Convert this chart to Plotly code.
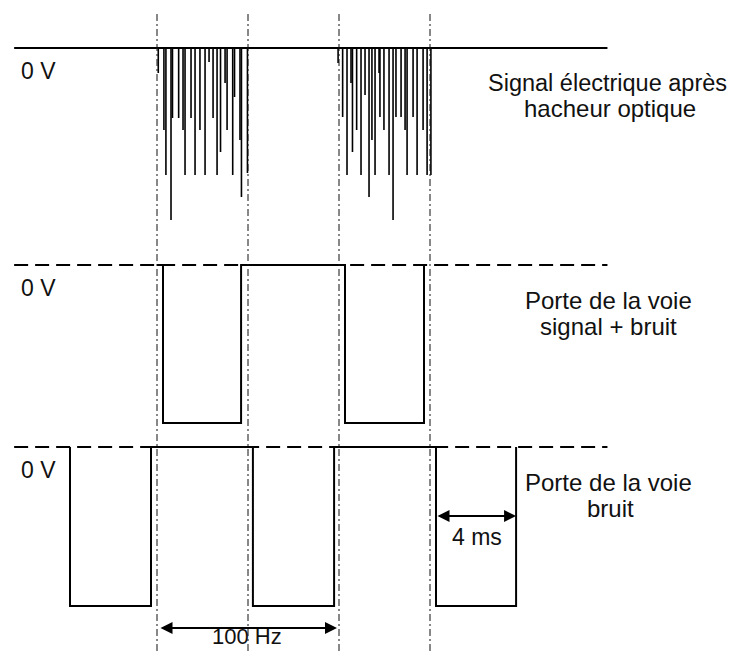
import plotly.graph_objects as go

# time axis in ms, chopper at 100 Hz (period 10 ms)
chopper_edges_ms = [0, 5, 10, 15]
baseline_ms = [-7.85, 24.75]

# spikes of the photodetector signal after the optical chopper (relative depth, 1 = deepest)
spike_ms = [0.07, 0.38, 0.49, 0.77, 0.85, 1.19, 1.43, 1.54, 1.87, 2.09, 2.36, 2.64,
            2.86, 3.08, 3.30, 3.49, 3.74, 3.85, 4.16, 4.26, 4.56, 4.64, 4.97,
            9.95, 10.20, 10.44, 10.66, 10.74, 10.97, 11.21, 11.43, 11.65, 11.81, 11.98,
            12.20, 12.25, 12.47, 12.75, 12.97, 13.13, 13.41, 13.63, 13.74, 14.07,
            14.29, 14.62, 14.84, 15.05]
spike_depth = [0.145, 0.477, 0.738, 1.00, 0.407, 0.407, 0.477, 0.738, 0.407, 0.738, 0.477, 0.738,
               0.081, 0.407, 0.738, 0.605, 0.203, 0.477, 0.738, 0.285, 0.535, 0.866, 0.727,
               0.087, 0.401, 0.738, 0.203, 0.605, 0.477, 0.738, 0.273, 0.866, 0.535, 0.738,
               0.145, 0.401, 0.477, 0.738, 1.00, 0.401, 0.401, 0.477, 0.738, 0.401,
               0.738, 0.477, 0.738, 0.738]

# gate edges (down, up, down, up ...)
signal_gate_start_ms = 0.0
signal_gate_edges_ms = [0.33, 4.62, 10.33, 14.67]
noise_gate_edges_ms = [-4.78, -0.33, 5.27, 9.73, 15.33, 19.73]
gate_low = -1.0

gate_width_arrow_ms = [15.33, 19.73]
gate_width_arrow_level = -0.434
period_arrow_ms = [0.11, 9.89]
period_arrow_level = -1.138

# the page body has an 8px margin all round, keep the figure inside the window
OFF = 8
W, H = 735 - 2 * OFF, 659 - 2 * OFF
PX_PER_MS = 18.2
X0_PX = 157 - OFF
FONT = "Liberation Sans, Arial, sans-serif"


def py(p):
    # window pixel row -> paper y
    return 1 - (p - OFF) / H


def px(p):
    return (p - OFF) / W


def step_wave(edges, start, end):
    xs, ys = [start], [0]
    level = 0
    for e in edges:
        xs += [e, e]
        new = gate_low if level == 0 else 0
        ys += [level, new]
        level = new
    xs.append(end)
    ys.append(level)
    return xs, ys


def spikes_xy(ts, depths):
    xs, ys = [], []
    for t, d in zip(ts, depths):
        xs += [t, t, None]
        ys += [0, -d, None]
    return xs, ys


fig = go.Figure()

# top channel: baseline + spikes
fig.add_trace(go.Scatter(x=baseline_ms, y=[0, 0], mode="lines",
                         line=dict(color="black", width=2), yaxis="y"))
sx, sy = spikes_xy(spike_ms, spike_depth)
fig.add_trace(go.Scatter(x=sx, y=sy, mode="lines",
                         line=dict(color="black", width=1.6), yaxis="y"))

# gate channels: dashed 0 V line + square wave
for yax in ["y2", "y3"]:
    fig.add_trace(go.Scatter(x=baseline_ms, y=[0, 0], mode="lines",
                             line=dict(color="black", width=2, dash="14px,7px"), yaxis=yax))

gx, gy = step_wave(signal_gate_edges_ms, signal_gate_start_ms, signal_gate_edges_ms[-1])
fig.add_trace(go.Scatter(x=gx, y=gy, mode="lines",
                         line=dict(color="black", width=2), yaxis="y2"))
nx, ny = step_wave(noise_gate_edges_ms, noise_gate_edges_ms[0], noise_gate_edges_ms[-1])
fig.add_trace(go.Scatter(x=nx, y=ny, mode="lines",
                         line=dict(color="black", width=2), yaxis="y3"))

# chopper edge markers over the whole figure
for t in chopper_edges_ms:
    fig.add_shape(type="line", xref="x", yref="paper", x0=t, x1=t, y0=0, y1=py(12),
                  line=dict(color="#111", width=1, dash="7px,3px,2px,3px"))

# double arrows
for (a, b), lvl in [(gate_width_arrow_ms, gate_width_arrow_level),
                    (period_arrow_ms, period_arrow_level)]:
    fig.add_annotation(x=b, y=lvl, ax=a, ay=lvl, xref="x", yref="y3", axref="x", ayref="y3",
                       text="", showarrow=True, arrowhead=2, arrowside="end+start",
                       arrowsize=1.2, arrowwidth=2, arrowcolor="black",
                       standoff=0, startstandoff=0)

texts = []
for line_px in [48, 265, 447]:
    texts.append(("0 V", 19, line_px + 23, "left", 23, "middle"))
texts += [
    ("Signal électrique après", 607, 48 + 35, "center", 23.5, "middle"),
    ("hacheur optique", 610, 48 + 61, "center", 24, "middle"),
    ("Porte de la voie", 608, 265 + 35, "center", 24, "middle"),
    ("signal + bruit", 608, 265 + 61, "center", 24, "middle"),
    ("Porte de la voie", 608, 447 + 35, "center", 24, "middle"),
    ("bruit", 610, 447 + 61, "center", 24, "middle"),
    ("4 ms", 477, 537, "center", 23, "middle"),
    # sits on the bottom edge of the page
    ("100 Hz", 247, 659 - OFF, "center", 22, "bottom"),
]
for txt, x, y, anchor, size, yanchor in texts:
    fig.add_annotation(x=px(x), y=py(y), xref="paper", yref="paper", text=txt,
                       showarrow=False, xanchor=anchor, yanchor=yanchor,
                       font=dict(family=FONT, size=size, color="#111"))

x_range = [-X0_PX / PX_PER_MS, (W - X0_PX) / PX_PER_MS]
hidden = dict(visible=False, showgrid=False, zeroline=False, fixedrange=True)
fig.update_layout(
    width=W, height=H,
    margin=dict(l=0, r=0, t=0, b=0),
    paper_bgcolor="white", plot_bgcolor="white",
    showlegend=False,
    xaxis=dict(range=x_range, domain=[0, 1], anchor="y", **hidden),
    # 0 V at row 48, deepest spike at row 220
    yaxis=dict(range=[-1.1, 0.1], domain=[py(237.2), py(30.8)], anchor="x", **hidden),
    # 0 V at row 265, gate low at row 423
    yaxis2=dict(range=[-1.04, 0.1], domain=[py(429.3), py(249.2)], anchor="x", **hidden),
    # 0 V at row 447, gate low at row 606
    yaxis3=dict(range=[-1.25, 0.1], domain=[py(645.75), py(431.1)], anchor="x", **hidden),
)

fig.write_html("out.html")
